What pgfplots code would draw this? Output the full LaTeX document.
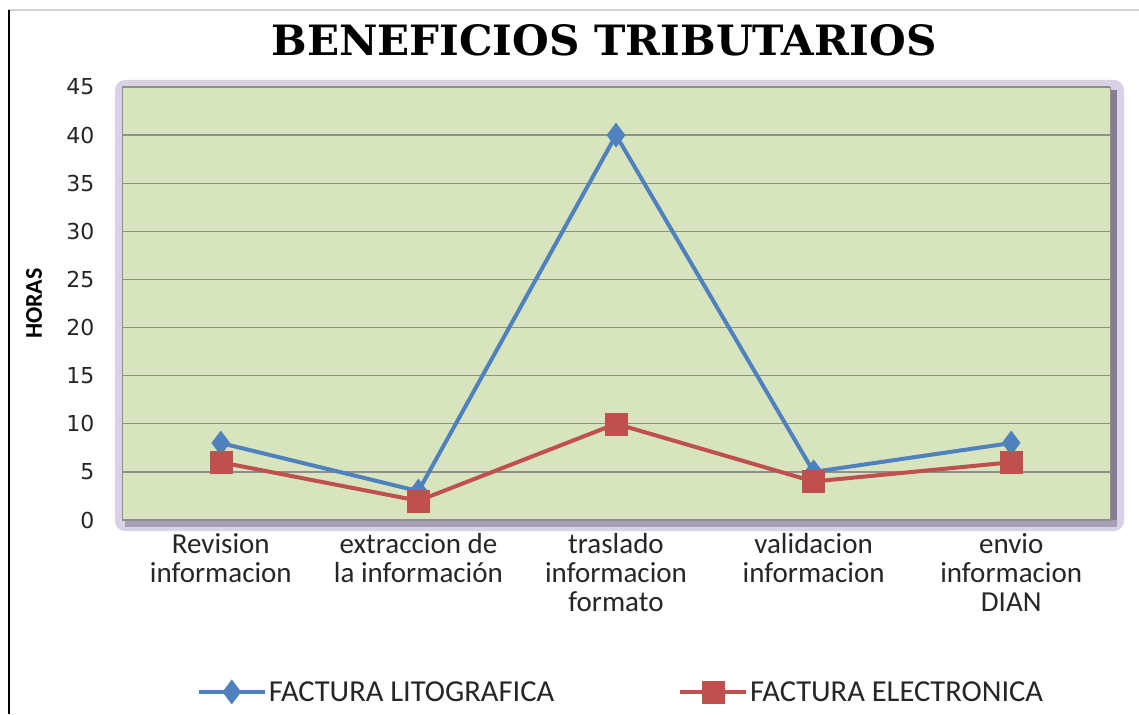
\documentclass[border=0pt]{standalone}
\usepackage{pgfplots}
\pgfplotsset{compat=1.18}
\usepackage{fontspec}
\setmainfont{Carlito}
\newfontfamily\tickfont{DejaVu Sans}
\newfontfamily\titlefont{DejaVu Serif}
\definecolor{bgreen}{HTML}{D7E4BD}
\definecolor{lblue}{HTML}{4F81BD}
\definecolor{lred}{HTML}{C0504D}
\definecolor{gridc}{HTML}{8E8E8E}
\definecolor{shad}{HTML}{D9D1E6}
\definecolor{shadark}{HTML}{857D92}
\begin{document}
\begin{tikzpicture}[x=1pt,y=1pt]
\useasboundingbox (0,0) rectangle (1139,-714);
\fill[white] (0,0) rectangle (1139,-714);
\draw[gray!35, line width=1.5pt] (8,-10) -- (1139,-10);
\draw[black, line width=2pt] (9,-10) -- (9,-714);
% shadow around plot area
\fill[shad, rounded corners=10pt] (115,-80) rectangle (1124,-531);
\fill[shadark] (1108,-90) rectangle (1117,-527);
\fill[shadark!60!shad] (125,-520) rectangle (1117,-527);
% title
\node[black] at (604,-40) {\resizebox{665pt}{31pt}{\titlefont\bfseries BENEFICIOS TRIBUTARIOS}};
\begin{axis}[
  at={(122pt,-520pt)}, anchor=south west,
  width=988pt, height=433pt, scale only axis,
  xmin=-0.5, xmax=4.5, ymin=0, ymax=45,
  ytick={0,5,...,45},
  xtick={0,1,2,3,4},
  xticklabels={{Revision\\informacion},{extraccion de\\la información},{traslado\\informacion\\formato},{validacion\\informacion},{envio\\informacion\\DIAN}},
  xticklabel style={align=center, font=\fontsize{29}{29}\selectfont, text=black!85, yshift=-10pt},
  yticklabel style={font=\fontsize{22}{24}\selectfont\tickfont, text=black!85, xshift=-24pt},
  /pgf/number format/assume math mode=true,
  axis background/.style={fill=bgreen},
  ymajorgrids, grid style={gridc, line width=1.3pt},
  axis line style={draw=gridc, line width=1pt},
  tick style={draw=none},
  ylabel={HORAS},
  ylabel style={at={(rel axis cs:-0.089,0.5)}, anchor=center, font=\fontsize{24}{26}\selectfont\bfseries},
  legend columns=2,
  legend style={at={(rel axis cs:0.505,-0.397)}, anchor=center, draw=none, fill=none,
    font=\fontsize{30.5}{31}\selectfont, text=black!85,
    /tikz/every even column/.append style={column sep=122pt}},
  legend image code/.code={\draw[mark repeat=2,mark phase=2,#1] plot coordinates {(0pt,0pt) (33pt,0pt) (66pt,0pt)};},
]
\addplot[lblue, line width=4pt, mark=diamond*, mark size=12pt, mark options={solid, line width=0.5pt}] coordinates {(0,8) (1,3) (2,40) (3,5) (4,8)};
\addlegendentry{FACTURA LITOGRAFICA}
\addplot[lred, line width=4pt, mark=square*, mark size=11pt, mark options={solid, line width=0.5pt}] coordinates {(0,6) (1,2) (2,10) (3,4) (4,6)};
\addlegendentry{FACTURA ELECTRONICA}
\end{axis}
\end{tikzpicture}
\end{document}
